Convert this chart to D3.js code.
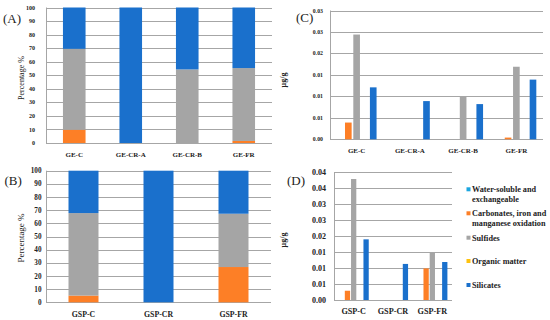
<!DOCTYPE html>
<html><head><meta charset="utf-8">
<script src="https://cdn.jsdelivr.net/npm/d3@7/dist/d3.min.js"></script>
<style>html,body{margin:0;padding:0;background:#fff}svg{display:block}</style>
</head><body>
<svg id="c" width="550" height="320"></svg>
<script>
// ---- data ----
const seriesNames = ["Water-soluble and exchangeable","Carbonates, iron and manganese oxidation","Sulfides","Organic matter","Silicates"];
const legendLines = [["Water-soluble and","exchangeable"],["Carbonates, iron and","manganese oxidation"],["Sulfides"],["Organic matter"],["Silicates"]];
const seriesColors = ["#1ba6e0","#fd7f26","#a5a5a5","#fec20e","#1a70cc"];

const catsGE = ["GE-C","GE-CR-A","GE-CR-B","GE-FR"];
const catsGSP = ["GSP-C","GSP-CR","GSP-FR"];

// (A) percentage
const pctGE_water   = [0, 0, 0, 0];
const pctGE_carb    = [9.8, 0, 0, 1.5];
const pctGE_sulf    = [59.7, 0, 54.3, 53.8];
const pctGE_org     = [0, 0, 0, 0];
const pctGE_sil     = [30.5, 100, 45.7, 44.7];
// (B) percentage
const pctGSP_water  = [0, 0, 0];
const pctGSP_carb   = [5.1, 0, 26.8];
const pctGSP_sulf   = [62.7, 0, 40.5];
const pctGSP_org    = [0, 0, 0];
const pctGSP_sil    = [32.2, 100, 32.7];
// (C) µg/g
const concGE_water  = [0, 0, 0, 0];
const concGE_carb   = [0.0039, 0, 0, 0.0004];
const concGE_sulf   = [0.0244, 0, 0.0099, 0.0169];
const concGE_org    = [0, 0, 0, 0];
const concGE_sil    = [0.0121, 0.0089, 0.0082, 0.0139];
// (D) µg/g
const concGSP_water = [0, 0, 0];
const concGSP_carb  = [0.0029, 0, 0.0099];
const concGSP_sulf  = [0.0379, 0, 0.0149];
const concGSP_org   = [0, 0, 0];
const concGSP_sil   = [0.0190, 0.0113, 0.0119];

const pctTicks = [0,10,20,30,40,50,60,70,80,90,100];
const concTicksC = [0,0.005,0.01,0.015,0.02,0.025,0.03];
const concTicksD = [0,0.005,0.01,0.015,0.02,0.025,0.03,0.035,0.04];

// ---- drawing ----
const svg = d3.select("#c");
const SERIF = "'Liberation Serif','DejaVu Serif',serif";
const gridColor = "#a6a6a6";
const textColor = "#222";

function frame(g, x0, x1, y, ticks, fmt, tickFont, cats, xs, catFont, catY) {
  // gridlines
  g.selectAll("line.grid").data(ticks).join("line")
    .attr("x1", x0).attr("x2", x1)
    .attr("y1", d => Math.round(y(d)) + 0.5).attr("y2", d => Math.round(y(d)) + 0.5)
    .attr("stroke", gridColor).attr("stroke-width", 1);
  g.append("line").attr("x1", x0 + 0.5).attr("x2", x0 + 0.5)
    .attr("y1", y(ticks[ticks.length-1])).attr("y2", y(0))
    .attr("stroke", gridColor).attr("stroke-width", 1);
  g.selectAll("text.tick").data(ticks).join("text")
    .attr("x", tickFont.x).attr("y", d => y(d) + tickFont.size * 0.35)
    .attr("text-anchor", "end")
    .style("font-family", SERIF).style("font-weight", "bold")
    .style("font-size", tickFont.size + "px").attr("fill", textColor)
    .text(fmt);
  g.selectAll("text.cat").data(cats).join("text")
    .attr("x", d => xs(d) + xs.bandwidth() / 2).attr("y", catY)
    .attr("text-anchor", "middle")
    .style("font-family", SERIF).style("font-weight", "bold")
    .style("font-size", catFont + "px").attr("fill", textColor)
    .text(d => d);
}

function stacked(cfg) {
  const g = svg.append("g");
  const x = d3.scaleBand().domain(cfg.cats).range([cfg.x0, cfg.x1]).paddingInner(0.6).paddingOuter(0.3);
  const y = d3.scaleLinear().domain([0, 100]).range([cfg.yb, cfg.yt]);
  frame(g, cfg.x0, cfg.x1, y, pctTicks, d3.format("d"), cfg.tickFont, cfg.cats, d3.scaleBand().domain(cfg.cats).range([cfg.x0, cfg.x1]), cfg.catFont, cfg.catY);
  const rows = cfg.cats.map((c, i) => {
    const r = {cat: c};
    cfg.series.forEach((s, k) => r[k] = s[i]);
    return r;
  });
  const stack = d3.stack().keys(d3.range(cfg.series.length))(rows);
  stack.forEach((layer, k) => {
    g.append("g").selectAll("rect").data(layer).join("rect")
      .attr("x", d => x(d.data.cat))
      .attr("width", x.bandwidth())
      .attr("y", d => y(d[1]))
      .attr("height", d => y(d[0]) - y(d[1]))
      .attr("fill", seriesColors[k]);
  });
  g.append("text").attr("transform", `translate(${cfg.ylab.x},${cfg.ylab.y}) rotate(-90)`)
    .attr("text-anchor", "middle")
    .style("font-family", SERIF).style("font-size", cfg.ylab.size + "px").attr("fill", textColor)
    .text("Percentage %");
  g.append("text").attr("x", cfg.tag.x).attr("y", cfg.tag.y)
    .style("font-family", SERIF).style("font-size", "13px").attr("fill", textColor)
    .text(cfg.tag.t);
}

function grouped(cfg) {
  const g = svg.append("g");
  const x0 = d3.scaleBand().domain(cfg.cats).range([cfg.x0, cfg.x1]).paddingInner(cfg.gpad).paddingOuter(cfg.gpad / 2);
  const x1 = d3.scaleBand().domain(d3.range(cfg.series.length)).range([0, x0.bandwidth()]).paddingInner(cfg.bpad).paddingOuter(cfg.bpad / 2);
  const y = d3.scaleLinear().domain([0, cfg.max]).range([cfg.yb, cfg.yt]);
  frame(g, cfg.x0, cfg.x1, y, cfg.ticks, d3.format(".2f"), cfg.tickFont, cfg.cats, d3.scaleBand().domain(cfg.cats).range([cfg.x0, cfg.x1]), cfg.catFont, cfg.catY);
  cfg.series.forEach((s, k) => {
    g.append("g").selectAll("rect").data(s.map((v, i) => ({cat: cfg.cats[i], v}))).join("rect")
      .attr("x", d => x0(d.cat) + x1(k))
      .attr("width", x1.bandwidth())
      .attr("y", d => y(d.v))
      .attr("height", d => y(0) - y(d.v))
      .attr("fill", seriesColors[k]);
  });
  g.append("text").attr("transform", `translate(${cfg.ylab.x},${cfg.ylab.y}) rotate(-90)`)
    .attr("text-anchor", "middle")
    .style("font-family", SERIF).style("font-weight", "bold").style("font-size", cfg.ylab.size + "px").attr("fill", textColor)
    .text("μg/g");
  g.append("text").attr("x", cfg.tag.x).attr("y", cfg.tag.y)
    .style("font-family", SERIF).style("font-size", "13px").attr("fill", textColor)
    .text(cfg.tag.t);
}

stacked({cats: catsGE, x0: 46, x1: 272, yt: 7.5, yb: 143,
  series: [pctGE_water, pctGE_carb, pctGE_sulf, pctGE_org, pctGE_sil],
  tickFont: {x: 35, size: 6}, catFont: 7, catY: 156.5,
  ylab: {x: 24, y: 78, size: 8}, tag: {x: 3, y: 23, t: "(A)"}});

stacked({cats: catsGSP, x0: 46, x1: 271, yt: 170.7, yb: 302.3,
  series: [pctGSP_water, pctGSP_carb, pctGSP_sulf, pctGSP_org, pctGSP_sil],
  tickFont: {x: 41.5, size: 7.2}, catFont: 7.8, catY: 316.5,
  ylab: {x: 24, y: 238, size: 9}, tag: {x: 4.5, y: 184.5, t: "(B)"}});

grouped({cats: catsGE, x0: 330, x1: 543, yt: 10.5, yb: 139.3, max: 0.03, ticks: concTicksC,
  series: [concGE_water, concGE_carb, concGE_sulf, concGE_org, concGE_sil],
  gpad: 0.22, bpad: 0.2,
  tickFont: {x: 323, size: 5.8}, catFont: 7, catY: 152.5,
  ylab: {x: 286, y: 80, size: 8}, tag: {x: 296, y: 22, t: "(C)"}});

grouped({cats: catsGSP, x0: 334, x1: 452, yt: 172.3, yb: 300, max: 0.04, ticks: concTicksD,
  series: [concGSP_water, concGSP_carb, concGSP_sulf, concGSP_org, concGSP_sil],
  gpad: 0.21, bpad: 0.15,
  tickFont: {x: 326, size: 8}, catFont: 8.2, catY: 314,
  ylab: {x: 286, y: 240, size: 8}, tag: {x: 287, y: 185, t: "(D)"}});

// legend
const legY = [189.3, 213.3, 237.7, 261, 285];
const leg = svg.append("g");
legendLines.forEach((lines, k) => {
  leg.append("rect").attr("x", 466.5).attr("y", legY[k] - 2).attr("width", 4).attr("height", 4)
    .attr("fill", seriesColors[k]);
  lines.forEach((t, j) => {
    leg.append("text").attr("x", 472).attr("y", legY[k] + 3 + j * 10)
      .style("font-family", SERIF).style("font-weight", "bold").style("font-size", "8.2px")
      .attr("fill", textColor).text(t);
  });
});
</script>
</body></html>
